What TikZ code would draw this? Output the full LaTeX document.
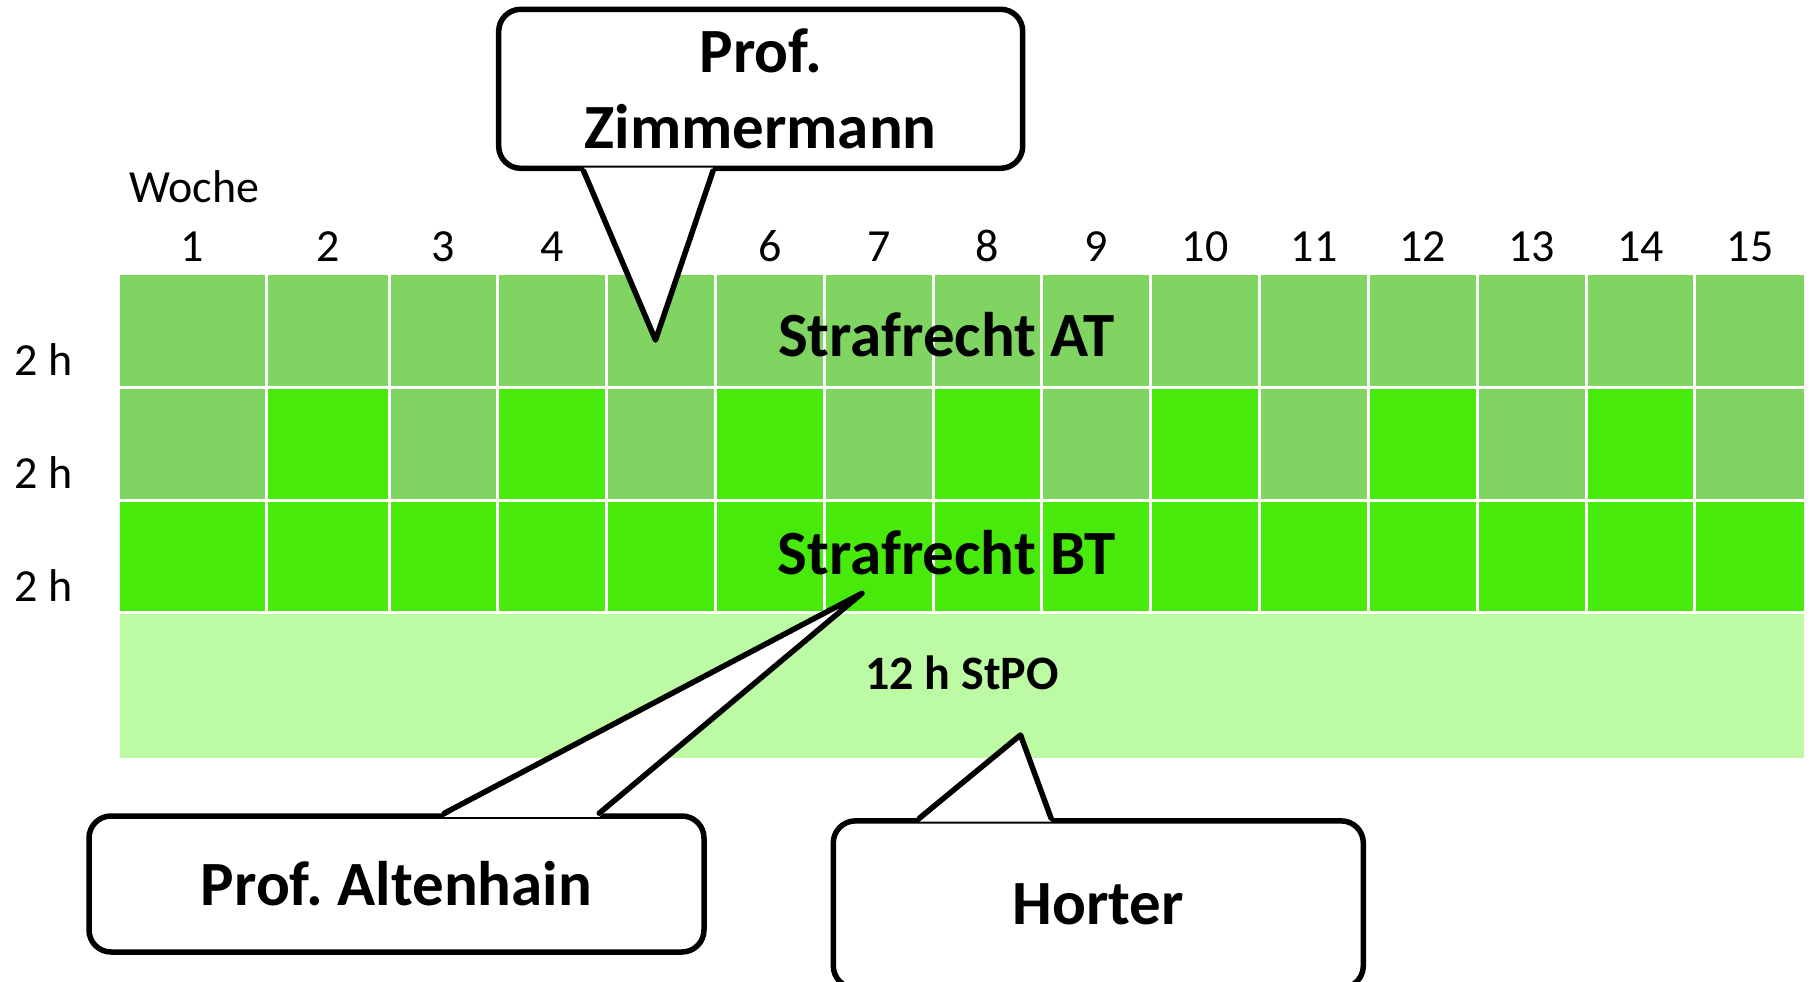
\documentclass[tikz,border=0pt]{standalone}
\usepackage{fontspec}
\setmainfont{Carlito}
\usetikzlibrary{calc}
\frenchspacing

\definecolor{atgreen}{RGB}{128,212,98}
\definecolor{btgreen}{RGB}{71,234,11}
\definecolor{stpogreen}{RGB}{188,251,164}

\begin{document}
\begin{tikzpicture}[x=1pt,y=-1pt]

\tikzset{cell/.style = {draw=white, line width=3pt}}
\tikzset{small/.style = {font=\fontsize{46}{55}\selectfont}}
\tikzset{course/.style = {font=\fontsize{63}{76}\selectfont\bfseries}}
\tikzset{bubble/.style = {draw, fill=white, line width=5.5pt, rounded corners=22pt, align=center, inner sep=0pt, font=\fontsize{63}{76}\selectfont\bfseries}}
\tikzset{pointer/.style = {line width=5.5pt, line join=round, line cap=round}}

\useasboundingbox (0,0) rectangle (1810,982);

% weeks
\foreach \xa/\xb [count=\i] in {118.5/266.6, 266.6/389, 389/497.8, 497.8/606.6, 606.6/715.5, 715.5/824.3, 824.3/933.1, 933.1/1041.9, 1041.9/1150.8, 1150.8/1259.6, 1259.6/1368.4, 1368.4/1477.2, 1477.2/1586, 1586/1694.9, 1694.9/1805.2} {
  \ifodd\i \colorlet{wk}{atgreen}\else \colorlet{wk}{btgreen}\fi
  \draw[cell, fill=atgreen] (\xa,273.5) rectangle (\xb,387.5);
  \draw[cell, fill=wk] (\xa,387.5) rectangle (\xb,500);
  \draw[cell, fill=btgreen] (\xa,500) rectangle (\xb,612.5);
  \node[small, anchor=base] (w\i) at ({(\xa+\xb)/2},261) {\i};
}
\draw[cell, fill=stpogreen] (118.5,612.5) rectangle (1805.2,759.5);

% labels
\node[small, anchor=base west] (woche) at (126,202) {Woche};
\foreach \y [count=\j] in {375,488,601}
  \node[small, anchor=base west] (h\j) at (11,\y) {2 h};
\node[course, anchor=base] (strafAT) at (946.5,356.5) {Strafrecht AT};
\node[course, anchor=base] (strafBT) at (946.5,574.5) {Strafrecht BT};
\node[anchor=base, font=\fontsize{48}{58}\selectfont\bfseries] (stpo) at (962,689) {12 h StPO};

% callouts
\node[bubble, minimum width=524pt, minimum height=159pt] (zimmermann) at (760.7,88.8) {Prof.\\Zimmermann};
\node[bubble, minimum width=615pt, minimum height=136pt] (altenhain) at (396.5,884) {Prof. Altenhain};
\node[bubble, minimum width=530pt, minimum height=167pt] (horter) at (1098.3,904.4) {Horter};

\coordinate (zimL) at ([xshift=87.7pt]zimmermann.south west);
\coordinate (zimR) at ([xshift=217pt]zimmermann.south west);
\coordinate (zimtip) at (655.5,340);
\coordinate (altL) at ([xshift=358pt]altenhain.north west);
\coordinate (altR) at ([xshift=513pt]altenhain.north west);
\coordinate (alttip) at (862,593.3);
\coordinate (horL) at ([xshift=88.9pt]horter.north west);
\coordinate (horR) at ([xshift=220.5pt]horter.north west);
\coordinate (hortip) at (1020.5,735);

\fill[white] ([yshift=3.5pt]zimL) -- (zimtip) -- ([yshift=3.5pt]zimR) -- cycle;
\fill[white] ([yshift=-3.5pt]altL) -- (alttip) -- ([yshift=-3.5pt]altR) -- cycle;
\fill[white] ([yshift=-3.5pt]horL) -- (hortip) -- ([yshift=-3.5pt]horR) -- cycle;
\draw[pointer] (zimL) -- (zimtip) -- (zimR);
\draw[pointer] (altL) -- (alttip) -- (altR);
\draw[pointer] (horL) -- (hortip) -- (horR);

\end{tikzpicture}
\end{document}
